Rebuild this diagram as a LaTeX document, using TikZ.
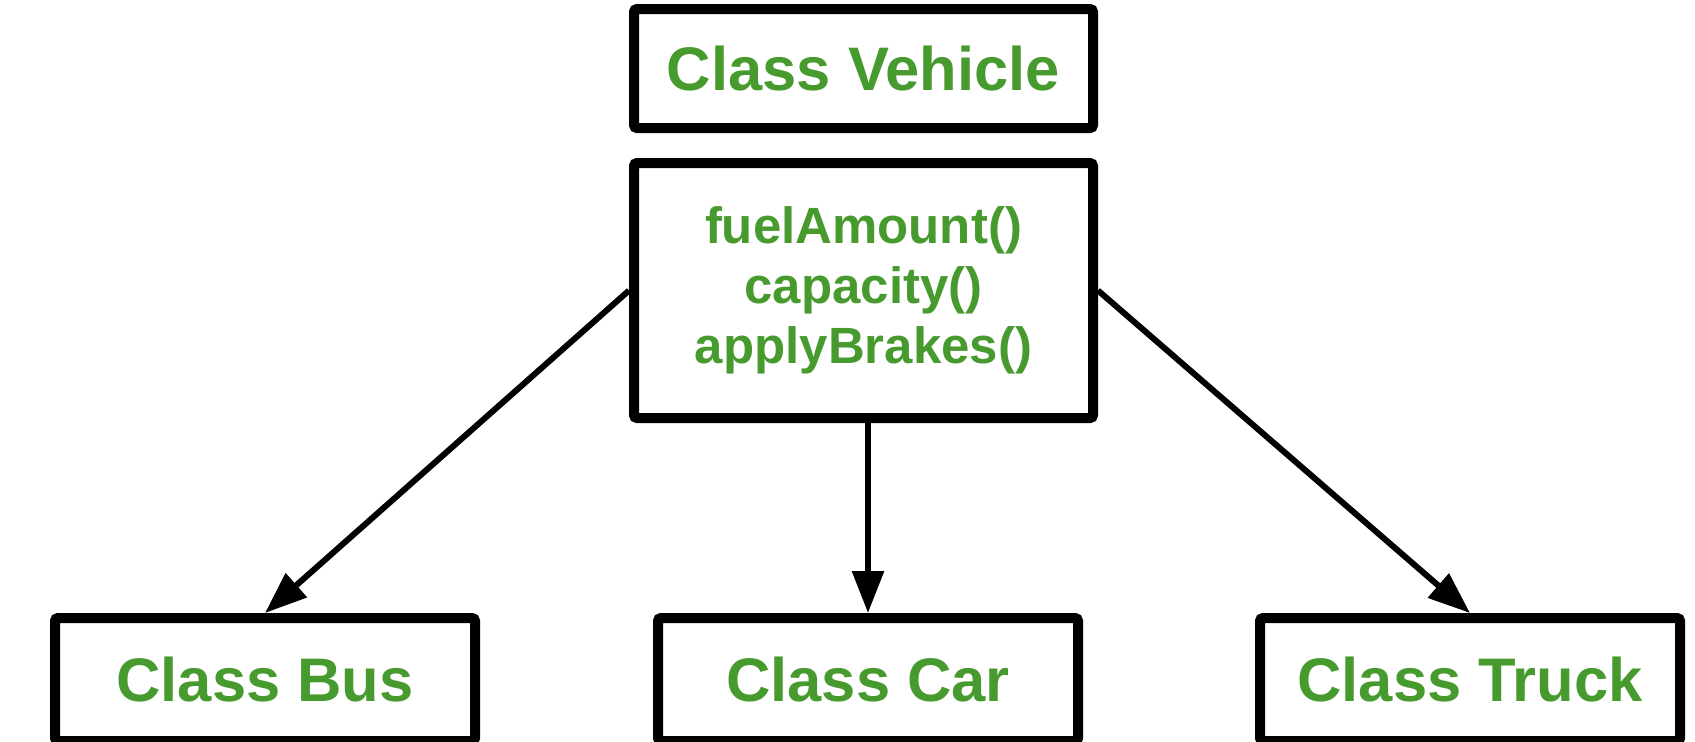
\documentclass[tikz,border=0pt]{standalone}
\usepackage{fontspec}
\setmainfont{Liberation Sans}
\usetikzlibrary{arrows.meta, positioning}
\definecolor{classgreen}{RGB}{71,154,46}

\begin{document}
\begin{tikzpicture}
        \tikzstyle{every node}=[align=center, text=classgreen]
        \tikzstyle{classbox}=[draw=black, line width=1mm, rounded corners=0.3mm, minimum width=4.2cm, minimum height=1.23cm, inner sep=0pt, font=\fontsize{17.5}{21}\selectfont\bfseries]
        \tikzstyle{inheritarrow}=[line width=0.6mm, >={Triangle[length=4.2mm, width=3.1mm]}, ->]
        \useasboundingbox (0, 0) rectangle (16.95, -7.41);
        \clip (0, 0) rectangle (16.95, -7.41);

        \node at (8.635, -0.685) [classbox, minimum width=4.59cm, minimum height=1.19cm] (vehicle) {Class Vehicle};
        \node at (8.635, -2.905) [classbox, minimum width=4.59cm, minimum height=2.55cm, font=\fontsize{14.5}{17}\selectfont\bfseries] (methods) {fuelAmount()\\capacity()\\applyBrakes()};

        \node at (2.65, -6.795) [classbox] (bus) {Class Bus};
        \node at (8.68, -6.795) [classbox] (car) {Class Car};
        \node at (14.70, -6.795) [classbox] (truck) {Class Truck};

        \draw[inheritarrow] (methods.west) -- (bus.north);
        \draw[inheritarrow] (methods.south -| car.north) -- (car.north);
        \draw[inheritarrow] (methods.east) -- (truck.north);
\end{tikzpicture}
\end{document}
